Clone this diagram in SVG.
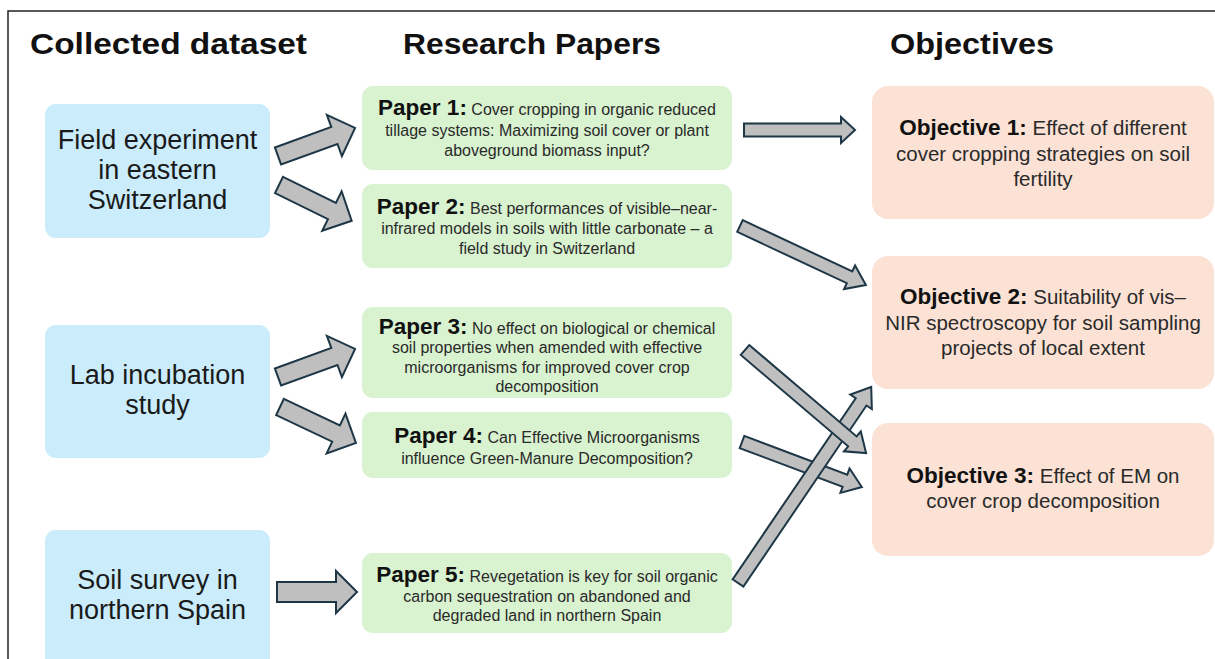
<svg xmlns="http://www.w3.org/2000/svg" width="1215" height="659" viewBox="0 0 1215 659">
<style>
.hdr{font-family:"Liberation Sans",Arial,sans-serif;font-weight:bold;font-size:30px;fill:#111}
.ds{fill:#caecfb}
.pp{fill:#d9f2d0}
.ob{fill:#fbe2d5}
.dt{font-family:"Liberation Sans",Arial,sans-serif;font-size:27px;fill:#1a1a1a;text-anchor:middle}
.pt{font-family:"Liberation Sans",Arial,sans-serif;font-size:16px;fill:#2a2a2a;text-anchor:middle}
.pb{font-weight:bold;font-size:22.5px;fill:#111}
.ot{font-family:"Liberation Sans",Arial,sans-serif;font-size:20.5px;fill:#2a2a2a;text-anchor:middle}
.obb{font-weight:bold;font-size:22.5px;fill:#111}
.arr{fill:#bfbfbf;stroke:#1e3747;stroke-width:2;stroke-linejoin:miter}
</style>
<rect width="1215" height="659" fill="#ffffff"/>
<path d="M8,659 V11 H1215" fill="none" stroke="#222" stroke-width="1.5"/>

<g id="headers">
<text class="hdr" x="30" y="54" textLength="277" lengthAdjust="spacingAndGlyphs">Collected dataset</text>
<text class="hdr" x="403" y="54" textLength="258" lengthAdjust="spacingAndGlyphs">Research Papers</text>
<text class="hdr" x="890" y="54" textLength="164" lengthAdjust="spacingAndGlyphs">Objectives</text>
</g>

<g id="ds1"><rect class="ds" x="45" y="104" width="225" height="134" rx="11"/>
<text class="dt" x="157.5" y="149">Field experiment</text>
<text class="dt" x="157.5" y="179">in eastern</text>
<text class="dt" x="157.5" y="209">Switzerland</text></g>
<g id="ds2"><rect class="ds" x="45" y="325" width="225" height="133" rx="11"/>
<text class="dt" x="157.5" y="384">Lab incubation</text>
<text class="dt" x="157.5" y="414">study</text></g>
<g id="ds3"><rect class="ds" x="45" y="530" width="225" height="140" rx="11"/>
<text class="dt" x="157.5" y="589">Soil survey in</text>
<text class="dt" x="157.5" y="619">northern Spain</text></g>

<g id="paper1"><rect class="pp" x="362" y="86" width="370" height="84" rx="11"/>
<text class="pt" x="547" y="115"><tspan class="pb">Paper 1:</tspan> Cover cropping in organic reduced</text>
<text class="pt" x="547" y="136">tillage systems: Maximizing soil cover or plant</text>
<text class="pt" x="547" y="156">aboveground biomass input?</text></g>
<g id="paper2"><rect class="pp" x="362" y="184" width="370" height="84" rx="11"/>
<text class="pt" x="547" y="214"><tspan class="pb">Paper 2:</tspan> Best performances of visible–near-</text>
<text class="pt" x="547" y="234">infrared models in soils with little carbonate – a</text>
<text class="pt" x="547" y="254">field study in Switzerland</text></g>
<g id="paper3"><rect class="pp" x="362" y="307" width="370" height="91" rx="11"/>
<text class="pt" x="547" y="334"><tspan class="pb">Paper 3:</tspan> No effect on biological or chemical</text>
<text class="pt" x="547" y="353">soil properties when amended with effective</text>
<text class="pt" x="547" y="373">microorganisms for improved cover crop</text>
<text class="pt" x="547" y="392">decomposition</text></g>
<g id="paper4"><rect class="pp" x="362" y="412" width="370" height="66" rx="11"/>
<text class="pt" x="547" y="443"><tspan class="pb">Paper 4:</tspan> Can Effective Microorganisms</text>
<text class="pt" x="547" y="464">influence Green-Manure Decomposition?</text></g>
<g id="paper5"><rect class="pp" x="362" y="553" width="370" height="80" rx="11"/>
<text class="pt" x="547" y="582"><tspan class="pb">Paper 5:</tspan> Revegetation is key for soil organic</text>
<text class="pt" x="547" y="602">carbon sequestration on abandoned and</text>
<text class="pt" x="547" y="621">degraded land in northern Spain</text></g>

<g id="obj1"><rect class="ob" x="872" y="86" width="342" height="133" rx="16"/>
<text class="ot" x="1043" y="135"><tspan class="obb">Objective 1:</tspan> Effect of different</text>
<text class="ot" x="1043" y="161">cover cropping strategies on soil</text>
<text class="ot" x="1043" y="186">fertility</text></g>
<g id="obj2"><rect class="ob" x="872" y="256" width="342" height="133" rx="16"/>
<text class="ot" x="1043" y="304"><tspan class="obb">Objective 2:</tspan> Suitability of vis–</text>
<text class="ot" x="1043" y="330">NIR spectroscopy for soil sampling</text>
<text class="ot" x="1043" y="355">projects of local extent</text></g>
<g id="obj3"><rect class="ob" x="872" y="423" width="342" height="133" rx="16"/>
<text class="ot" x="1043" y="483"><tspan class="obb">Objective 3:</tspan> Effect of EM on</text>
<text class="ot" x="1043" y="508">cover crop decomposition</text></g>

<g id="connectors">
<path class="arr" transform="translate(278,156) rotate(-20)" d="M0,-9 H60 V-22 L82,0 L60,22 V9 H0 Z"/>
<path class="arr" transform="translate(279,185) rotate(26.2)" d="M0,-9 H59 V-22 L81,0 L59,22 V9 H0 Z"/>
<path class="arr" transform="translate(278,377) rotate(-20)" d="M0,-9 H60 V-22 L82,0 L60,22 V9 H0 Z"/>
<path class="arr" transform="translate(280,407) rotate(25.3)" d="M0,-9 H62 V-22 L84,0 L62,22 V9 H0 Z"/>
<path class="arr" transform="translate(277,592)" d="M0,-10 H59 V-21 L80,0 L59,21 V10 H0 Z"/>
<path class="arr" transform="translate(744,130)" d="M0,-6.5 H97 V-13 L111,0 L97,13 V6.5 H0 Z"/>
<path class="arr" transform="translate(740,226) rotate(25.1)" d="M0,-6.5 H121 V-13 L139,0 L121,13 V6.5 H0 Z"/>
<path class="arr" transform="translate(742,442) rotate(20.6)" d="M0,-6.5 H110 V-13 L128,0 L110,13 V6.5 H0 Z"/>
<path class="arr" transform="translate(738,583) rotate(-55.8)" d="M0,-6.5 H219 V-13 L237,0 L219,13 V6.5 H0 Z"/>
<path class="arr" transform="translate(745,350) rotate(40.4)" d="M0,-6.5 H141 V-13 L159,0 L141,13 V6.5 H0 Z"/>
</g>
</svg>
